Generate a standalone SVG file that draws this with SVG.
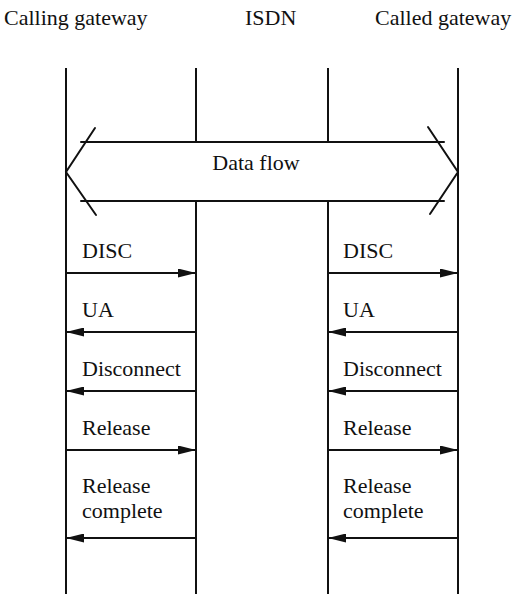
<svg xmlns="http://www.w3.org/2000/svg" width="517" height="594" viewBox="0 0 517 594">
<style>
  text { font-family: "Liberation Serif", "Times New Roman", serif; font-size: 22px; fill: #111; }
  .life { stroke: #111; stroke-width: 2; fill: none; }
  .msg { stroke: #111; stroke-width: 2; fill: none; }
  .flow { stroke: #111; stroke-width: 2; fill: none; stroke-linecap: round; }
</style>
<defs>
  <marker id="ah" viewBox="0 0 18 9" refX="18" refY="4.5" markerWidth="18" markerHeight="9" markerUnits="userSpaceOnUse" orient="auto">
    <path d="M0,0 L18,4.5 L0,9 Z" fill="#111"/>
  </marker>
</defs>
<rect width="517" height="594" fill="#fff"/>

<g id="calling-gateway">
  <text x="4" y="25">Calling gateway</text>
  <line class="life" x1="66" y1="68" x2="66" y2="594"/>
</g>
<g id="isdn">
  <text x="245" y="25">ISDN</text>
  <line class="life" x1="196" y1="68" x2="196" y2="142"/>
  <line class="life" x1="196" y1="201" x2="196" y2="594"/>
  <line class="life" x1="328" y1="68" x2="328" y2="142"/>
  <line class="life" x1="328" y1="201" x2="328" y2="594"/>
</g>
<g id="called-gateway">
  <text x="375" y="25">Called gateway</text>
  <line class="life" x1="458" y1="68" x2="458" y2="594"/>
</g>

<g id="data-flow">
  <line class="flow" x1="81" y1="142" x2="444" y2="142"/>
  <line class="flow" x1="81" y1="201" x2="444" y2="201"/>
  <polyline class="flow" points="95,128 66,172 96,215"/>
  <polyline class="flow" points="428,127 458,172 430,214"/>
  <text x="256" y="170" text-anchor="middle">Data flow</text>
</g>

<g id="connectors">
  <line class="msg" x1="66" y1="273" x2="196" y2="273" marker-end="url(#ah)"/>
  <line class="msg" x1="196" y1="332" x2="66" y2="332" marker-end="url(#ah)"/>
  <line class="msg" x1="196" y1="391" x2="66" y2="391" marker-end="url(#ah)"/>
  <line class="msg" x1="66" y1="450" x2="196" y2="450" marker-end="url(#ah)"/>
  <line class="msg" x1="196" y1="538" x2="66" y2="538" marker-end="url(#ah)"/>

  <line class="msg" x1="328" y1="273" x2="458" y2="273" marker-end="url(#ah)"/>
  <line class="msg" x1="458" y1="332" x2="328" y2="332" marker-end="url(#ah)"/>
  <line class="msg" x1="458" y1="391" x2="328" y2="391" marker-end="url(#ah)"/>
  <line class="msg" x1="328" y1="450" x2="458" y2="450" marker-end="url(#ah)"/>
  <line class="msg" x1="458" y1="538" x2="328" y2="538" marker-end="url(#ah)"/>
</g>

<g id="labels">
  <text x="82" y="258">DISC</text>
  <text x="82" y="317">UA</text>
  <text x="82" y="376">Disconnect</text>
  <text x="82" y="435">Release</text>
  <text x="82" y="493">Release</text>
  <text x="82" y="518">complete</text>

  <text x="343" y="258">DISC</text>
  <text x="343" y="317">UA</text>
  <text x="343" y="376">Disconnect</text>
  <text x="343" y="435">Release</text>
  <text x="343" y="493">Release</text>
  <text x="343" y="518">complete</text>
</g>
</svg>
